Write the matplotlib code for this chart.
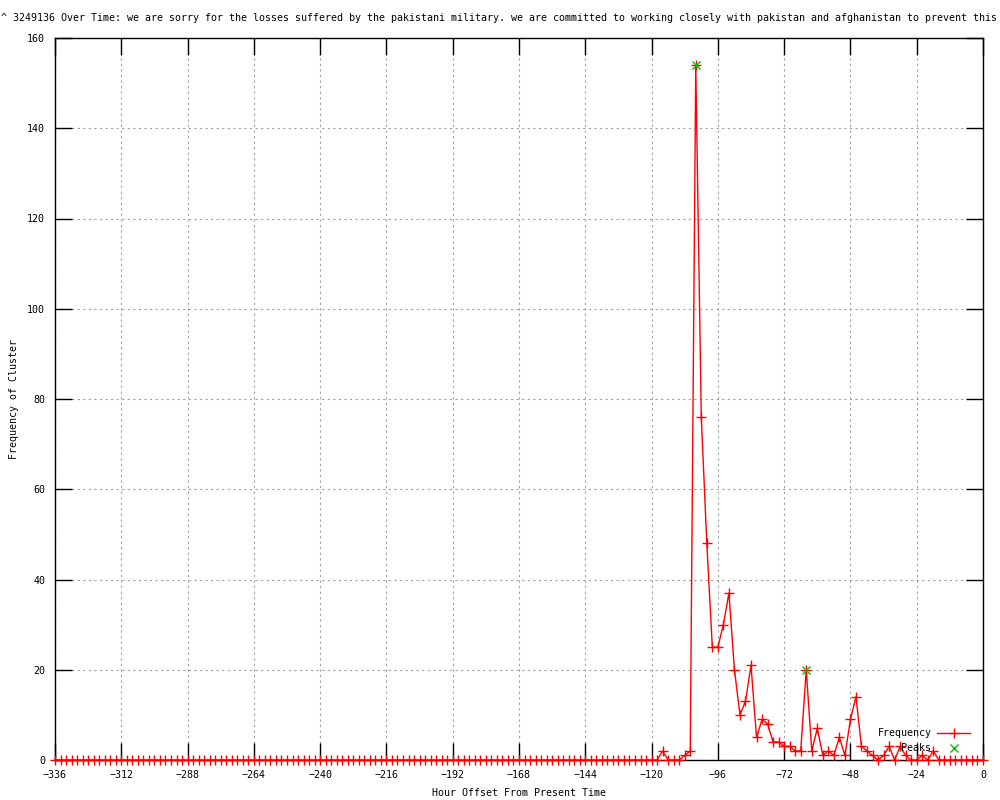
import numpy as np
import matplotlib
matplotlib.use("Agg")
import matplotlib.pyplot as plt

# cluster frequency, one bin every 2 hours from -336 to 0
hours = list(range(-336, 1, 2))
freq = [
    0, 0, 0, 0, 0, 0, 0, 0, 0, 0, 0, 0, 0, 0, 0, 0, 0, 0, 0, 0,
    0, 0, 0, 0, 0, 0, 0, 0, 0, 0, 0, 0, 0, 0, 0, 0, 0, 0, 0, 0,
    0, 0, 0, 0, 0, 0, 0, 0, 0, 0, 0, 0, 0, 0, 0, 0, 0, 0, 0, 0,
    0, 0, 0, 0, 0, 0, 0, 0, 0, 0, 0, 0, 0, 0, 0, 0, 0, 0, 0, 0,
    0, 0, 0, 0, 0, 0, 0, 0, 0, 0, 0, 0, 0, 0, 0, 0, 0, 0, 0, 0,
    0, 0, 0, 0, 0, 0, 0,
    # -122 .. 0
    0, 0, 0, 2, 0, 0, 0, 1, 2, 154,
    76, 48, 25, 25, 30, 37, 20, 10, 13, 21,
    5, 9, 8, 4, 4, 3, 3, 2, 2, 20,
    2, 7, 1, 2, 1, 5, 1, 9, 14, 3,
    2, 1, 0, 1, 3, 0, 3, 1, 0, 0,
    1, 0, 2, 0, 0, 0, 0, 0, 0, 0,
    0, 0,
]
peak_hours = [-104, -64]
peak_values = [154, 20]

title = ("^ 3249136 Over Time: we are sorry for the losses suffered by the pakistani "
         "military. we are committed to working closely with pakistan and afghanistan "
         "to prevent this")

plt.rcParams['font.family'] = ['DejaVu Sans Mono']
fs = 7.2

fig = plt.figure(figsize=(10, 8), dpi=100)
ax = fig.add_axes([0.055, 0.05, 0.928, 0.9025])

ax.plot(hours, freq, color='red', lw=1, marker='+', markersize=7,
        markeredgewidth=1, label='Frequency', clip_on=False, zorder=3)
ax.plot(peak_hours, peak_values, ls='none', color='#00c000', marker='x',
        markersize=6, markeredgewidth=1, label='Peaks', zorder=4)

ax.set_xlim(-336, 0)
ax.set_ylim(0, 160)
ax.set_xticks(range(-336, 1, 24))
ax.set_yticks(range(0, 161, 20))
ax.grid(True, color='#a0a0a0', ls=(0, (2, 3)), lw=0.8)
ax.tick_params(direction='in', length=12, width=1, top=True, right=True,
               labelsize=fs, pad=7)
for s in ax.spines.values():
    s.set_linewidth(1)

ax.set_xlabel('Hour Offset From Present Time', fontsize=fs, labelpad=6)
ax.set_ylabel('Frequency of Cluster', fontsize=fs, labelpad=6)
fig.text(0.499, 0.977, title, ha='center', va='center', fontsize=fs)

ax.legend(loc='lower right', bbox_to_anchor=(0.994, 0.0), frameon=False,
          markerfirst=False, fontsize=fs, handlelength=3.3, handletextpad=0.6,
          labelspacing=0.45, borderaxespad=0.3, numpoints=1)

fig.savefig('out.png', dpi=100)
